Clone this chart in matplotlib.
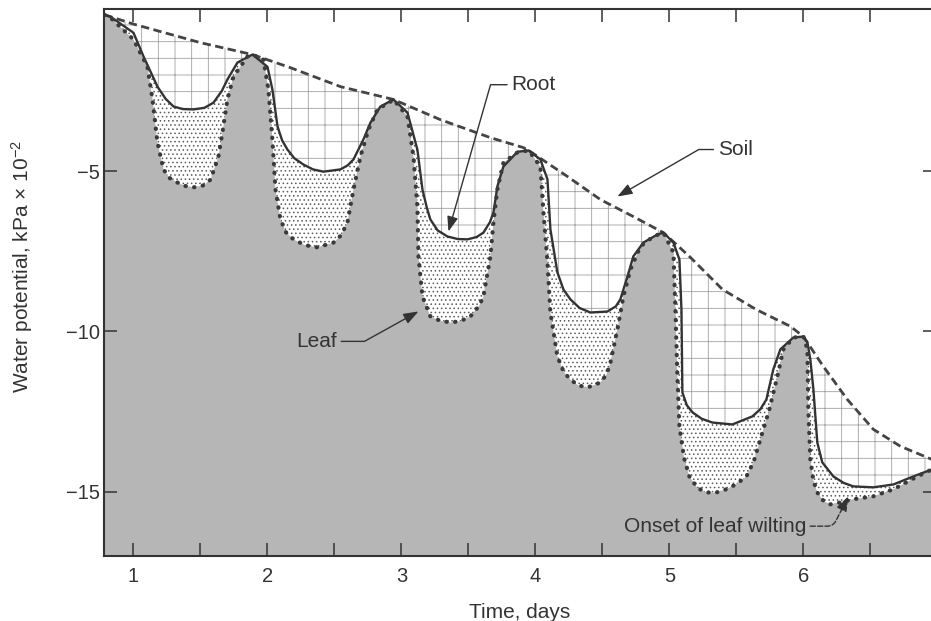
import matplotlib.pyplot as plt

plt.rcParams['font.family'] = ['Liberation Sans', 'DejaVu Sans']
plt.rcParams['mathtext.fontset'] = 'custom'
plt.rcParams['mathtext.rm'] = 'Liberation Sans'
plt.rcParams['mathtext.it'] = 'Liberation Sans:italic'
plt.rcParams['hatch.linewidth'] = 0.6

# water potential (kPa x 10^-2)
soil_x = [0.784, 1.0, 1.5, 1.888, 2.172, 2.545, 2.94, 3.291, 3.664, 3.91, 3.95,
          4.239, 4.485, 4.731, 4.955, 5.149, 5.396, 5.649, 5.903, 6.0, 6.149,
          6.328, 6.522, 6.724, 6.96]
soil_y = [-0.13, -0.42, -1.0, -1.37, -1.78, -2.37, -2.77, -3.40, -3.96, -4.27, -4.36,
          -5.17, -5.89, -6.42, -6.92, -7.66, -8.69, -9.32, -9.84, -10.16, -11.09,
          -12.12, -13.05, -13.58, -13.99]

root_x = [0.784, 0.828, 1.0, 1.075, 1.179, 1.24, 1.299, 1.37, 1.448, 1.53, 1.597, 1.66,
          1.701, 1.776, 1.888,
          2.0, 2.037, 2.075, 2.11, 2.149, 2.2, 2.269, 2.34, 2.418, 2.545, 2.60, 2.642, 2.716,
          2.769, 2.843, 2.94,
          3.045, 3.119, 3.157, 3.19, 3.216, 3.27, 3.343, 3.42, 3.493, 3.56, 3.612, 3.66, 3.687,
          3.716, 3.761, 3.866, 3.95,
          4.037, 4.09, 4.112, 4.164, 4.21, 4.261, 4.33, 4.41, 4.537, 4.60, 4.634, 4.687, 4.731,
          4.806, 4.91, 4.955,
          5.03, 5.075, 5.09, 5.097, 5.13, 5.172, 5.24, 5.321, 5.47, 5.619, 5.68, 5.724, 5.776,
          5.828, 5.925, 6.0,
          6.03, 6.052, 6.075, 6.104, 6.141, 6.224, 6.30, 6.373, 6.522, 6.672, 6.821, 6.96]
root_y = [-0.13, -0.19, -0.69, -1.43, -2.37, -2.75, -2.99, -3.07, -3.08, -3.03, -2.87, -2.50,
          -2.15, -1.62, -1.37,
          -1.75, -2.46, -3.61, -4.05, -4.33, -4.60, -4.80, -4.95, -5.02, -4.95, -4.82, -4.64, -4.02,
          -3.49, -2.99, -2.77,
          -3.18, -4.33, -5.58, -6.15, -6.51, -6.85, -7.04, -7.12, -7.13, -7.06, -6.92, -6.60, -6.29,
          -5.48, -4.86, -4.40, -4.36,
          -4.64, -5.26, -6.82, -8.16, -8.70, -9.00, -9.27, -9.41, -9.38, -9.22, -9.00, -8.29, -7.66,
          -7.23, -6.98, -6.92,
          -7.23, -7.76, -9.31, -11.90, -12.30, -12.52, -12.72, -12.84, -12.90, -12.65, -12.42, -12.12, -11.18,
          -10.56, -10.19, -10.16,
          -10.34, -10.87, -11.81, -13.46, -14.08, -14.52, -14.72, -14.83, -14.86, -14.77, -14.52, -14.30]

leaf_x = [0.784, 0.828, 1.0, 1.104, 1.142, 1.179, 1.224, 1.27, 1.328, 1.39, 1.448, 1.52,
          1.575, 1.634, 1.664, 1.701, 1.746, 1.851, 1.888,
          1.97, 2.007, 2.037, 2.06, 2.097, 2.14, 2.194, 2.28, 2.373, 2.493, 2.55, 2.597, 2.642,
          2.694, 2.754, 2.821, 2.918, 2.94,
          3.045, 3.09, 3.119, 3.127, 3.157, 3.216, 3.29, 3.366, 3.44, 3.515, 3.58, 3.612, 3.664,
          3.687, 3.716, 3.761, 3.866, 3.95,
          4.037, 4.06, 4.09, 4.112, 4.164, 4.21, 4.261, 4.32, 4.388, 4.485, 4.53, 4.56, 4.612,
          4.657, 4.709, 4.784, 4.881, 4.955,
          5.03, 5.045, 5.06, 5.075, 5.11, 5.149, 5.21, 5.276, 5.35, 5.425, 5.50, 5.575, 5.63,
          5.672, 5.746, 5.806, 5.851, 5.925, 6.0,
          6.03, 6.037, 6.052, 6.075, 6.104, 6.15, 6.201, 6.29, 6.373, 6.522, 6.672, 6.851, 6.96]
leaf_y = [-0.13, -0.22, -0.90, -1.75, -2.77, -4.11, -4.95, -5.22, -5.36, -5.47, -5.51, -5.45,
          -5.27, -4.55, -3.80, -2.77, -2.06, -1.43, -1.37,
          -1.53, -2.46, -4.02, -5.58, -6.51, -6.92, -7.13, -7.31, -7.38, -7.23, -7.00, -6.60, -5.58,
          -4.55, -3.71, -3.08, -2.84, -2.77,
          -3.30, -4.55, -6.11, -7.66, -8.91, -9.53, -9.67, -9.72, -9.68, -9.53, -9.20, -8.91, -7.66,
          -6.60, -5.58, -4.74, -4.42, -4.36,
          -4.86, -6.29, -7.85, -9.41, -10.78, -11.25, -11.50, -11.68, -11.75, -11.59, -11.35, -10.97, -9.94,
          -8.91, -8.07, -7.35, -7.04, -6.92,
          -7.54, -9.31, -11.40, -12.96, -13.95, -14.52, -14.88, -15.02, -15.02, -14.92, -14.76, -14.52, -14.05,
          -13.46, -12.43, -11.40, -10.56, -10.19, -10.16,
          -10.56, -12.43, -13.99, -14.65, -15.02, -15.28, -15.39, -15.32, -15.23, -15.14, -14.92, -14.52, -14.30]

day_ticks = [1, 2, 3, 4, 5, 6]
half_day_ticks = [1.5, 2.5, 3.5, 4.5, 5.5, 6.5]
wp_ticks = [-5, -10, -15]
wp_labels = ['\u22125', '\u221210', '\u221215']

INK = '#333333'
BOTTOM = -17

fig = plt.figure(figsize=(9.31, 6.21), dpi=100)
ax = fig.add_axes([104 / 931, 65 / 621, 832 / 931, 547 / 621])


def closed(xs, ys):
    # curve plus the two bottom corners of the plot
    return list(xs) + [xs[-1], xs[0]], list(ys) + [BOTTOM, BOTTOM]


px, py = closed(soil_x, soil_y)
ax.fill(px, py, facecolor='white', edgecolor='#a0a0a0', hatch='+', lw=0, zorder=1)
px, py = closed(root_x, root_y)
ax.fill(px, py, facecolor='white', edgecolor='#5a5a5a', hatch='....', lw=0, zorder=2)
px, py = closed(leaf_x, leaf_y)
ax.fill(px, py, facecolor='#b6b6b6', lw=0, zorder=3)

ax.plot(soil_x, soil_y, color='#444444', lw=2.0, dashes=(3.0, 1.6), zorder=5)
ax.plot(root_x, root_y, color=INK, lw=1.7, zorder=6)
ax.plot(leaf_x, leaf_y, color='#3a3a3a', lw=3.0, linestyle=(0, (0.1, 2.0)),
        dash_capstyle='round', zorder=7)

arrow = dict(arrowstyle='-|>,head_length=0.6,head_width=0.22', color=INK, lw=1,
             shrinkA=1, shrinkB=0)
ax.annotate('Root', xy=(3.351, -6.885), xytext=(3.82, -2.31), fontsize=15,
            ha='left', va='center', color=INK, zorder=8,
            arrowprops=dict(arrow, connectionstyle='angle,angleA=0,angleB=74,rad=0'))
ax.annotate('Soil', xy=(4.612, -5.794), xytext=(5.36, -4.33), fontsize=15,
            ha='left', va='center', color=INK, zorder=8,
            arrowprops=dict(arrow, connectionstyle='angle,angleA=0,angleB=30,rad=0'))
ax.annotate('Leaf', xy=(3.127, -9.377), xytext=(2.52, -10.31), fontsize=15,
            ha='right', va='center', color=INK, zorder=8,
            arrowprops=dict(arrow, connectionstyle='angle,angleA=0,angleB=29,rad=0'))
ax.annotate('Onset of leaf wilting', xy=(6.336, -15.14), xytext=(6.02, -16.07),
            fontsize=15, ha='right', va='center', color=INK, zorder=8,
            arrowprops=dict(arrow, linestyle='--',
                            connectionstyle='angle,angleA=0,angleB=63,rad=6'))

ax.set_xlim(0.78, 6.99)
ax.set_ylim(BOTTOM, 0.05)
ax.set_xticks(day_ticks)
ax.set_xticks(half_day_ticks, minor=True)
ax.set_yticks(wp_ticks)
ax.set_yticklabels(wp_labels)
ax.tick_params(which='both', direction='in', length=9.5, width=1.1, color=INK,
               top=True, right=True, labelsize=14.5, labelcolor=INK)
ax.tick_params(axis='x', pad=8)
ax.tick_params(axis='y', pad=3)
ax.xaxis.set_zorder(10)
ax.yaxis.set_zorder(10)
for side in ax.spines.values():
    side.set_linewidth(1.5)
    side.set_color(INK)
    side.set_zorder(10)

ax.set_xlabel('Time, days', fontsize=15, color=INK, labelpad=12)
ax.set_ylabel('Water potential, kPa $\\times$ 10$^{-2}$', fontsize=15, color=INK)
ax.yaxis.set_label_coords(-0.083, 0.53)

fig.savefig('out.png', dpi=100, facecolor='white')
